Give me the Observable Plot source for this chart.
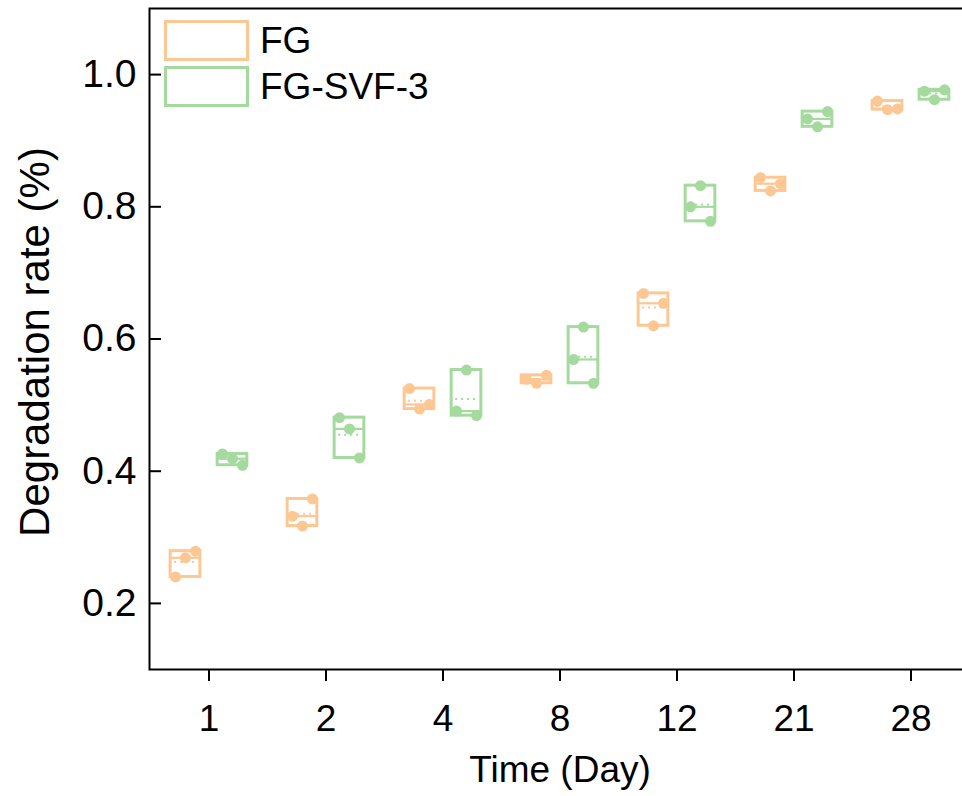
<!DOCTYPE html>
<html>
<head>
<meta charset="utf-8">
<script src="https://cdn.jsdelivr.net/npm/d3@7"></script>
<script src="https://cdn.jsdelivr.net/npm/@observablehq/plot@0.6"></script>
<style>
  html, body { margin: 0; padding: 0; background: #fff; overflow: hidden; }
  #wrap { position: relative; width: 962px; height: 796px; overflow: hidden; }
  #legend { position: absolute; left: 164px; top: 20px; font-family: "Liberation Sans", Arial, sans-serif; font-size: 37px; color: #000; }
  .item { display: flex; align-items: center; height: 41px; margin-bottom: 5px; }
  .sw { box-sizing: border-box; width: 85px; height: 41px; border: 3px solid; margin-right: 11px; }
  .lab { line-height: 1; }
</style>
</head>
<body>
<div id="wrap">
  <div id="chart"></div>
  <div id="legend"></div>
</div>
<script>
// ---- data ----
const days = ["1", "2", "4", "8", "12", "21", "28"];
const seriesNames = ["FG", "FG-SVF-3"];
const seriesColors = ["#FDC794", "#A5DA9E"];

// three replicates per day (plotted left / centre / right inside each box)
const fgRep1 = [0.240, 0.332, 0.525, 0.539, 0.669, 0.844, 0.960];
const fgRep2 = [0.269, 0.317, 0.494, 0.533, 0.620, 0.824, 0.947];
const fgRep3 = [0.279, 0.358, 0.501, 0.545, 0.654, 0.835, 0.948];

const svfRep1 = [0.426, 0.481, 0.491, 0.569, 0.800, 0.933, 0.975];
const svfRep2 = [0.419, 0.464, 0.553, 0.618, 0.832, 0.921, 0.962];
const svfRep3 = [0.409, 0.420, 0.484, 0.533, 0.778, 0.944, 0.977];

const yTicks = [0.2, 0.4, 0.6, 0.8, 1.0];

// ---- layout ----
const W = 962, H = 796;
const mL = 149, mR = -8, mT = 8, mB = 127;
const bw = (W - mR - mL) / days.length;
const dodge = 23.5, boxW = 30, jitter = 10;

function insets(sign, extra = 0) {
  const c = bw / 2 + sign * dodge;
  return { insetLeft: c - boxW / 2 + extra, insetRight: bw - (c + boxW / 2) + extra };
}

const groups = [
  { name: seriesNames[0], color: seriesColors[0], sign: -1, reps: [fgRep1, fgRep2, fgRep3] },
  { name: seriesNames[1], color: seriesColors[1], sign: +1, reps: [svfRep1, svfRep2, svfRep3] }
];

const marks = [];
for (const g of groups) {
  const summary = days.map((d, i) => {
    const v = g.reps.map(r => r[i]);
    return { day: d, min: d3.min(v), max: d3.max(v), median: d3.median(v), mean: d3.mean(v) };
  });
  marks.push(Plot.barY(summary, { x: "day", y1: "min", y2: "max", fill: "none", stroke: g.color, strokeWidth: 3, ...insets(g.sign) }));
  marks.push(Plot.tickY(summary, { x: "day", y: "median", stroke: g.color, strokeWidth: 2.2, ...insets(g.sign) }));
  marks.push(Plot.tickY(summary, { x: "day", y: "mean", stroke: g.color, strokeWidth: 2, strokeDasharray: "2,4", ...insets(g.sign, 4) }));
  g.reps.forEach((rep, k) => {
    const pts = days.map((d, i) => ({ day: d, value: rep[i] }));
    marks.push(Plot.dot(pts, { x: "day", y: "value", dx: g.sign * dodge + (k - 1) * jitter, r: 5.5, fill: g.color, stroke: "none" }));
  });
}

const chart = Plot.plot({
  width: W, height: H,
  marginLeft: mL, marginRight: mR, marginTop: mT, marginBottom: mB,
  style: { fontFamily: "Liberation Sans, Arial, sans-serif", fontSize: "37px", color: "#000", background: "#fff", overflow: "hidden" },
  x: { type: "band", domain: days, padding: 0 },
  y: { domain: [0.1, 1.1] },
  marks: [
    Plot.frame({ stroke: "#000", strokeWidth: 2 }),
    Plot.axisX({ tickSize: 12, tickPadding: 23, strokeWidth: 2, fontSize: 37, label: null }),
    Plot.axisY({ ticks: yTicks, tickFormat: d3.format(".1f"), tickSize: -12, tickPadding: 25, strokeWidth: 2, fontSize: 39, label: null }),
    Plot.text(["Time (Day)"], { frameAnchor: "bottom", textAnchor: "middle", lineAnchor: "middle", dy: 101, fontSize: 37, fill: "#000" }),
    Plot.text(["Degradation rate (%)"], { frameAnchor: "left", textAnchor: "middle", lineAnchor: "middle", rotate: -90, dx: -114, dy: 3, fontSize: 42, fill: "#000" }),
    ...marks
  ]
});
document.getElementById("chart").appendChild(chart);

// legend
const legend = document.getElementById("legend");
groups.forEach(g => {
  const item = document.createElement("div");
  item.className = "item";
  const sw = document.createElement("div");
  sw.className = "sw";
  sw.style.borderColor = g.color;
  const lab = document.createElement("span");
  lab.className = "lab";
  lab.textContent = g.name;
  item.appendChild(sw);
  item.appendChild(lab);
  legend.appendChild(item);
});
</script>
</body>
</html>
